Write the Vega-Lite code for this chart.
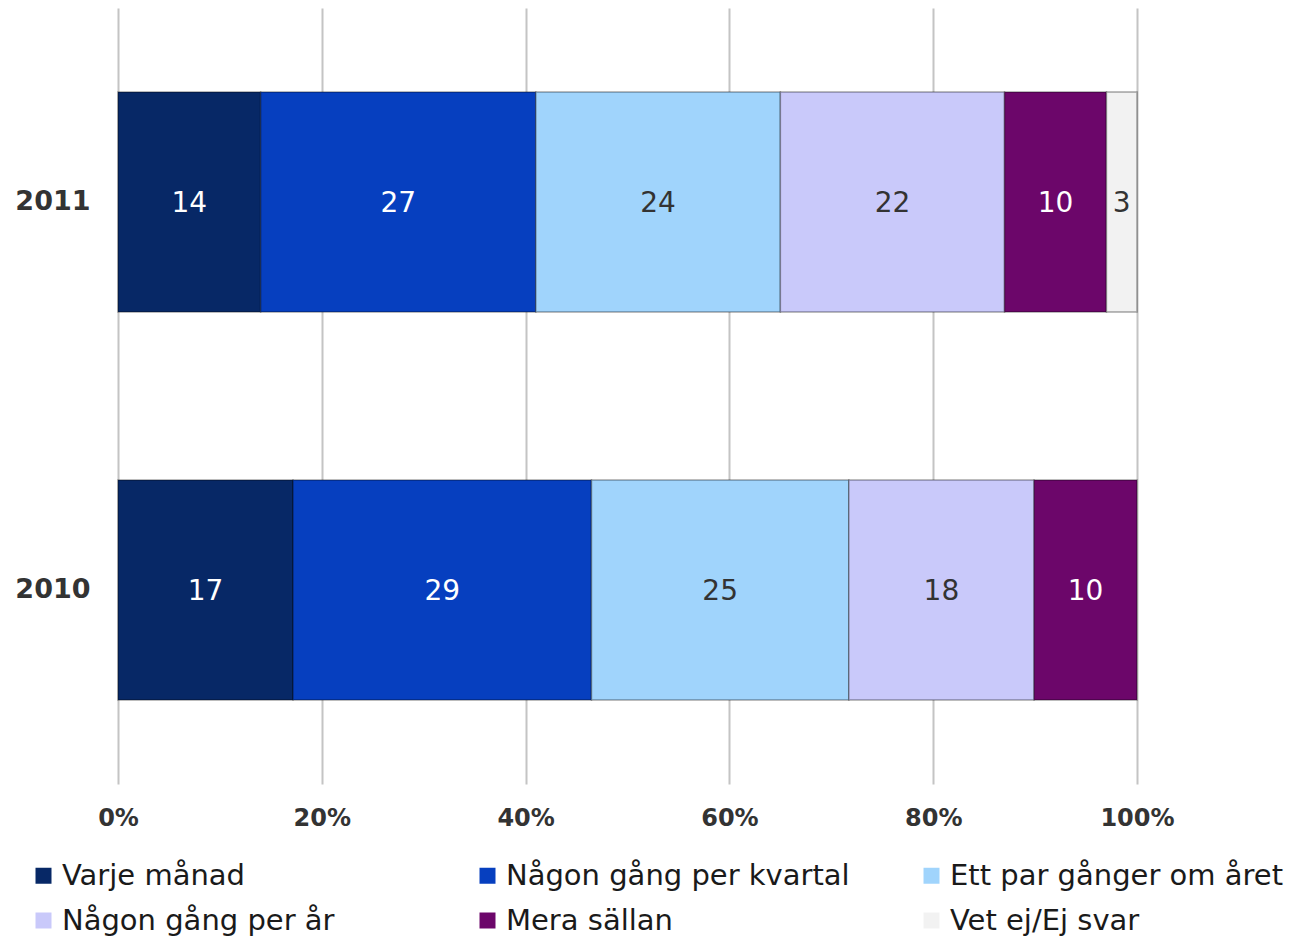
{
  "$schema": "https://vega.github.io/schema/vega-lite/v6.json",
  "width": 1019,
  "height": 776,
  "autosize": {"type": "none"},
  "padding": {"left": 118, "top": 8, "right": 162, "bottom": 157},
  "background": "white",
  "config": {
    "view": {"stroke": null},
    "font": "DejaVu Sans"
  },
  "data": {
    "values": [
      {"year": "2011", "cat": "Varje månad", "k": 1, "v": 14},
      {"year": "2011", "cat": "Någon gång per kvartal", "k": 2, "v": 27},
      {"year": "2011", "cat": "Ett par gånger om året", "k": 3, "v": 24},
      {"year": "2011", "cat": "Någon gång per år", "k": 4, "v": 22},
      {"year": "2011", "cat": "Mera sällan", "k": 5, "v": 10},
      {"year": "2011", "cat": "Vet ej/Ej svar", "k": 6, "v": 3},
      {"year": "2010", "cat": "Varje månad", "k": 1, "v": 17},
      {"year": "2010", "cat": "Någon gång per kvartal", "k": 2, "v": 29},
      {"year": "2010", "cat": "Ett par gånger om året", "k": 3, "v": 25},
      {"year": "2010", "cat": "Någon gång per år", "k": 4, "v": 18},
      {"year": "2010", "cat": "Mera sällan", "k": 5, "v": 10}
    ]
  },
  "encoding": {
    "y": {
      "field": "year", "type": "nominal", "sort": ["2011", "2010"],
      "scale": {"paddingInner": 0.433, "paddingOuter": 0.2165},
      "axis": {"title": null, "domain": false, "ticks": false, "labelFontSize": 27, "labelFontWeight": "bold", "labelColor": "#333333", "labelPadding": 28}
    },
    "x": {
      "field": "v", "type": "quantitative", "stack": "normalize",
      "scale": {"domain": [0, 1], "nice": false},
      "axis": {"title": null, "format": "%", "values": [0, 0.2, 0.4, 0.6, 0.8, 1], "grid": true, "gridColor": "#c4c4c4", "gridWidth": 2, "domain": false, "ticks": false, "labelFlush": false, "labelFontSize": 24, "labelFontWeight": "bold", "labelColor": "#333333", "labelPadding": 22}
    },
    "order": {"field": "k", "type": "quantitative"}
  },
  "layer": [
    {
      "mark": {"type": "bar", "stroke": "#000000", "strokeOpacity": 0.35, "strokeWidth": 1.5},
      "encoding": {
        "color": {
          "field": "cat", "type": "nominal",
          "scale": {
            "domain": ["Varje månad", "Någon gång per kvartal", "Ett par gånger om året", "Någon gång per år", "Mera sällan", "Vet ej/Ej svar"],
            "range": ["#072866", "#063fbf", "#a0d4fc", "#c9c9fa", "#6c066a", "#f2f2f2"]
          },
          "legend": {
            "title": null, "orient": "none", "legendX": -89, "legendY": 853,
            "direction": "horizontal", "columns": 3, "gridAlign": "all",
            "columnPadding": 67, "rowPadding": 15,
            "symbolType": "square", "symbolSize": 256, "symbolStrokeWidth": 0,
            "labelFontSize": 29, "labelColor": "#1a1a1a", "labelOffset": 4, "labelLimit": 500
          }
        }
      }
    },
    {
      "mark": {"type": "text", "fontSize": 28, "align": "center", "baseline": "middle", "dy": 2},
      "encoding": {
        "x": {"field": "v", "type": "quantitative", "stack": "normalize", "bandPosition": 0.5},
        "text": {"field": "v", "type": "quantitative"},
        "color": {
          "condition": {"test": "indexof(['Varje månad','Någon gång per kvartal','Mera sällan'], datum.cat) >= 0", "value": "white"},
          "value": "#333333"
        }
      }
    }
  ]
}
